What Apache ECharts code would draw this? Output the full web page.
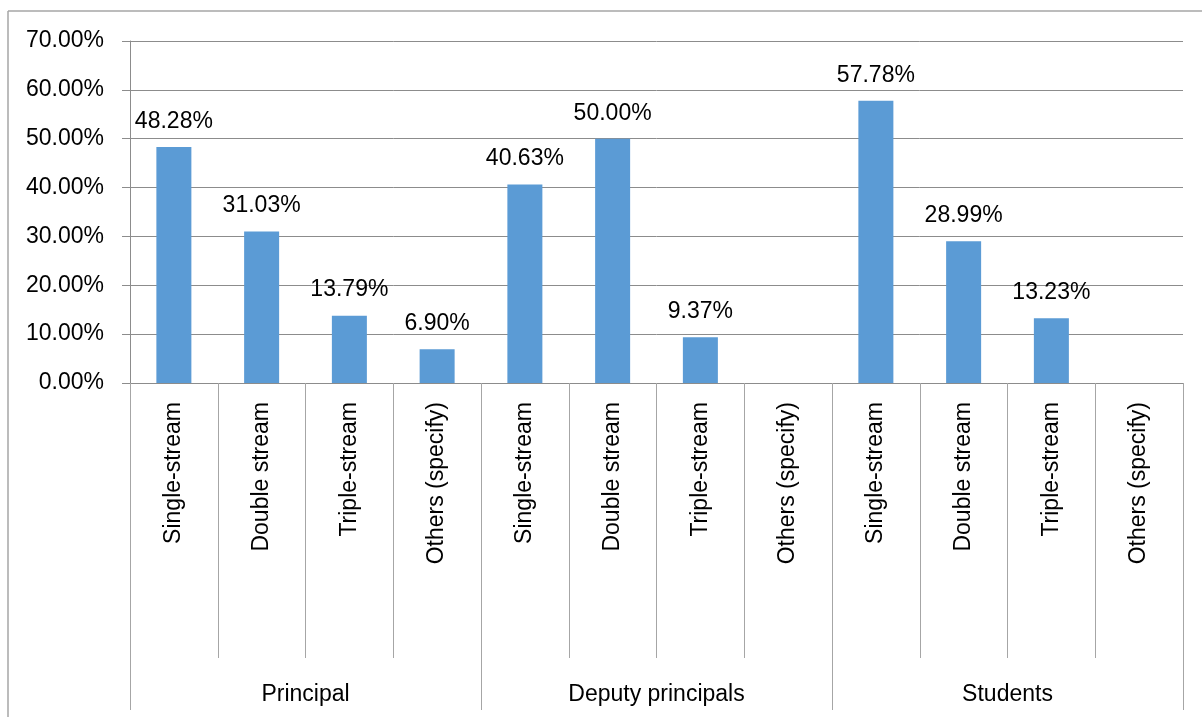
<!DOCTYPE html>
<html>
<head>
<meta charset="utf-8">
<script src="https://cdn.jsdelivr.net/npm/echarts@6/dist/echarts.min.js"></script>
<style>
  html, body { margin: 0; padding: 0; background: #fff; }
  #chart { width: 1202px; height: 717px; }
</style>
</head>
<body>
<div id="chart"></div>
<script>
// Stream types, repeated under each respondent group
const categories = [
  'Single-stream', 'Double stream', 'Triple-stream', 'Others (specify)',
  'Single-stream', 'Double stream', 'Triple-stream', 'Others (specify)',
  'Single-stream', 'Double stream', 'Triple-stream', 'Others (specify)'
];
const groups = ['Principal', 'Deputy principals', 'Students'];
// Share of responses (%), null where no response was recorded
const values = [48.28, 31.03, 13.79, 6.90, 40.63, 50.00, 9.37, null, 57.78, 28.99, 13.23, null];
const yTicks = [0, 10, 20, 30, 40, 50, 60, 70];

const FONT = 'Liberation Sans';
const FS = 23;
const chart = echarts.init(document.getElementById('chart'));

chart.setOption({
  animation: false,
  backgroundColor: '#fff',
  textStyle: { fontFamily: FONT },
  grid: { left: 130, right: 19, top: 41, bottom: 334, containLabel: false },
  graphic: [
    // chart-area frame edges
    { type: 'line', shape: { x1: 8, y1: 11, x2: 1202, y2: 11 }, style: { stroke: '#A6A6A6', lineWidth: 1.5 } },
    { type: 'line', shape: { x1: 8, y1: 11, x2: 8, y2: 717 }, style: { stroke: '#A6A6A6', lineWidth: 1.5 } }
  ],
  xAxis: [
    {
      type: 'category',
      data: categories,
      position: 'bottom',
      offset: 0,
      axisLine: { show: true, lineStyle: { color: '#8C8C8C', width: 1 } },
      axisTick: { show: true, interval: 0, length: 275, lineStyle: { color: '#A6A6A6', width: 1 } },
      axisLabel: { interval: 0, rotate: 90, margin: 19, fontSize: FS, color: '#000', fontFamily: FONT }
    },
    {
      type: 'category',
      data: groups,
      position: 'bottom',
      offset: 0,
      axisLine: { show: false },
      axisTick: { show: true, interval: 0, length: 327, lineStyle: { color: '#A6A6A6', width: 1 } },
      axisLabel: { interval: 0, margin: 300, fontSize: FS, color: '#000', fontFamily: FONT }
    }
  ],
  yAxis: {
    type: 'value',
    min: yTicks[0],
    max: yTicks[yTicks.length - 1],
    interval: 10,
    axisLine: { show: true, lineStyle: { color: '#8C8C8C', width: 1 } },
    axisTick: { show: true, length: 8, lineStyle: { color: '#8C8C8C' } },
    splitLine: { show: true, lineStyle: { color: '#8C8C8C', width: 1 } },
    axisLabel: {
      margin: 26,
      fontSize: FS,
      color: '#000',
      fontFamily: FONT,
      formatter: v => v.toFixed(2) + '%'
    }
  },
  series: [
    {
      type: 'bar',
      xAxisIndex: 0,
      data: values,
      barWidth: 35,
      itemStyle: { color: '#5B9BD5' },
      label: {
        show: true,
        position: 'top',
        distance: 14,
        fontSize: FS,
        color: '#000',
        fontFamily: FONT,
        formatter: p => (p.value == null ? '' : p.value.toFixed(2) + '%')
      }
    }
  ]
});
</script>
</body>
</html>
